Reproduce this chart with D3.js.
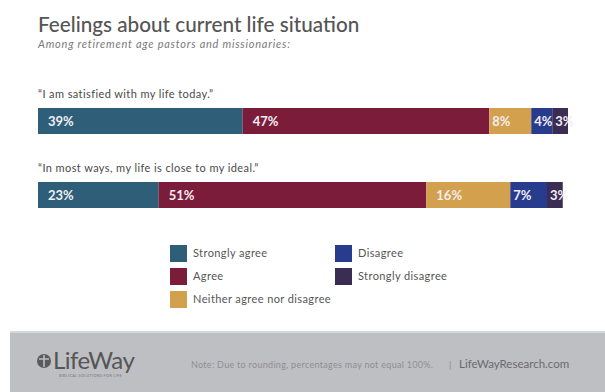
<!DOCTYPE html>
<html>
<head>
<meta charset="utf-8">
<script src="https://cdn.jsdelivr.net/npm/d3@7/dist/d3.min.js"></script>
<style>
  html, body { margin: 0; padding: 0; background: #fff; }
  svg { display: block; }
  text { font-family: Lato, "Open Sans", sans-serif; }
</style>
</head>
<body>
<svg id="chart" width="605" height="392"></svg>
<script>
// Survey responses
const categories = ["Strongly agree", "Agree", "Neither agree nor disagree", "Disagree", "Strongly disagree"];
const questions = ["\u201CI am satisfied with my life today.\u201D", "\u201CIn most ways, my life is close to my ideal.\u201D"];
const satisfiedValues = [39, 47, 8, 4, 3];
const idealValues = [23, 51, 16, 7, 3];
const colors = ["#2f5e79", "#7b1c3b", "#d3a04e", "#283c8e", "#3b2c53"];

const svg = d3.select("#chart");
const W = 605, H = 392;

// Title block
svg.append("text").attr("x", 38).attr("y", 32)
  .attr("font-size", 20.7).attr("font-weight", 500).attr("fill", "#555")
  .text("Feelings about current life situation");
svg.append("text").attr("x", 38).attr("y", 48)
  .attr("font-size", 11).attr("font-style", "italic").attr("fill", "#7a7a7a")
  .attr("letter-spacing", 0.75)
  .text("Among retirement age pastors and missionaries:");

// Stacked horizontal bars
const rows = [
  { q: questions[0], values: satisfiedValues },
  { q: questions[1], values: idealValues }
];
const maxTotal = d3.max(rows, r => d3.sum(r.values));
const x = d3.scaleLinear().domain([0, maxTotal]).range([38, 568]);
const rowY = [108, 182];
const bh = 26;

rows.forEach((r, i) => {
  const top = rowY[i];
  svg.append("text").attr("x", 38).attr("y", top - 10)
    .attr("font-size", 11).attr("letter-spacing", 0.4)
    .attr("fill", "#4a4a4a").text(r.q);

  let acc = 0;
  const segs = r.values.map((v, k) => {
    const s = { v, k, x0: acc, x1: acc + v };
    acc += v;
    return s;
  });
  const g = svg.append("g");
  g.selectAll("rect").data(segs).join("rect")
    .attr("x", d => x(d.x0))
    .attr("y", top)
    .attr("width", d => x(d.x1) - x(d.x0))
    .attr("height", bh)
    .attr("fill", d => colors[d.k]);
  g.selectAll("text").data(segs).join("text")
    .attr("x", d => x(d.x0) + (d.v < 10 ? 3 : 10))
    .attr("y", top + bh / 2 + 5)
    .attr("font-size", 13).attr("font-weight", 700)
    .attr("fill", "#f2eef2")
    .text(d => d.v + "%");
});

// Legend
const legendPos = [
  [170, 245], [170, 268], [170, 291],
  [335, 245], [335, 268]
];
const lg = svg.append("g");
categories.forEach((c, i) => {
  const [lx, ly] = legendPos[i];
  lg.append("rect").attr("x", lx).attr("y", ly).attr("width", 17).attr("height", 17)
    .attr("fill", colors[i]);
  lg.append("text").attr("x", lx + 23).attr("y", ly + 12)
    .attr("font-size", 11).attr("letter-spacing", 0.4)
    .attr("fill", "#555").text(c);
});

// Footer band
svg.append("rect").attr("x", 10).attr("y", 331).attr("width", W - 10).attr("height", H - 331)
  .attr("fill", "#bebfc3");
svg.append("rect").attr("x", 10).attr("y", 331).attr("width", W - 10).attr("height", 2)
  .attr("fill", "#d6d7da");

// Logo mark
const logo = svg.append("g").attr("transform", "translate(37,352)");
logo.append("circle").attr("cx", 7).attr("cy", 9).attr("r", 7).attr("fill", "#5a5a5c");
logo.append("path").attr("d", "M7,3 L7,15 M2,7 L12,7").attr("stroke", "#bebfc3").attr("stroke-width", 1.6);
logo.append("text").attr("x", 16).attr("y", 17)
  .attr("font-family", "'Liberation Serif', 'DejaVu Serif', serif")
  .attr("font-size", 24).attr("fill", "#555").attr("letter-spacing", -0.5)
  .text("LifeWay");
logo.append("text").attr("x", 22).attr("y", 25)
  .attr("font-size", 3.8).attr("fill", "#777").attr("letter-spacing", 0.3)
  .text("BIBLICAL SOLUTIONS FOR LIFE");

// Footer note
svg.append("text").attr("x", 191).attr("y", 368)
  .attr("font-size", 9).attr("letter-spacing", 0.3).attr("fill", "#8e8e91")
  .text("Note: Due to rounding, percentages may not equal 100%.");
svg.append("text").attr("x", 449).attr("y", 368)
  .attr("font-size", 10).attr("fill", "#8e8e91").text("|");
svg.append("text").attr("x", 459).attr("y", 368)
  .attr("font-size", 11.5).attr("fill", "#6a6a6d")
  .text("LifeWayResearch.com");
</script>
</body>
</html>
